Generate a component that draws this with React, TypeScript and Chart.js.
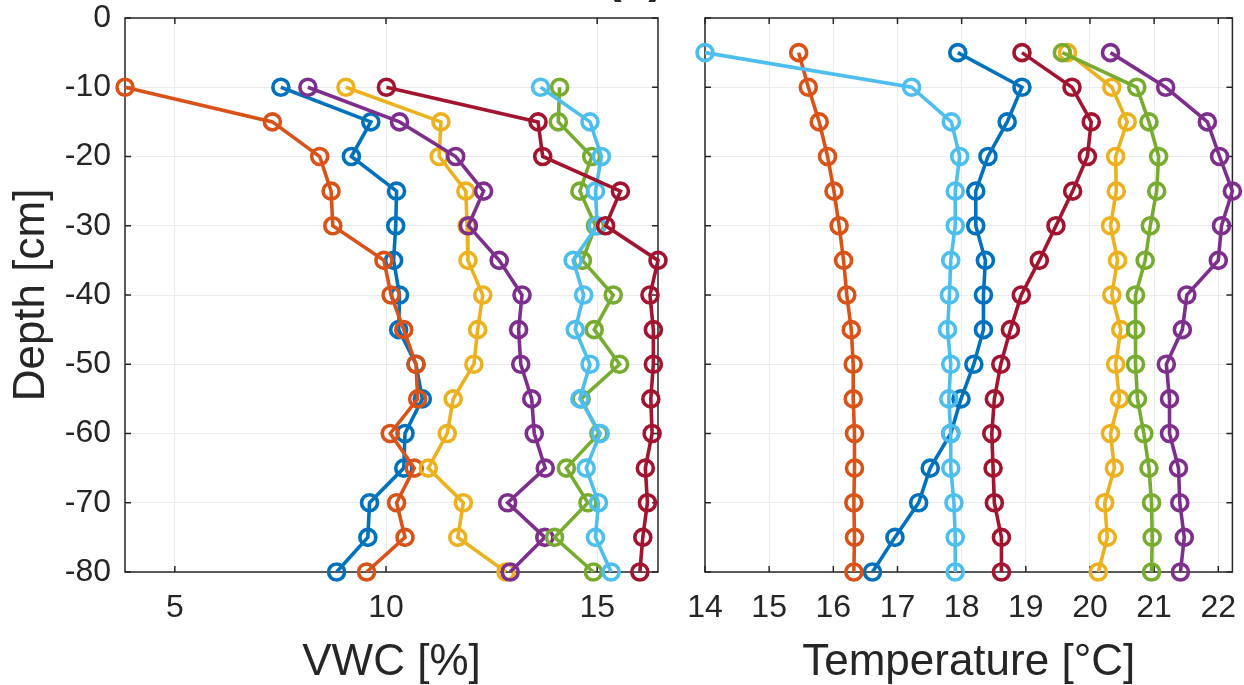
import React, { useEffect, useRef } from "react";
import { Chart, registerables } from "chart.js";

Chart.register(...registerables);

// ---------- Data ----------
const DEPTH_VWC = [-10, -15, -20, -25, -30, -35, -40, -45, -50, -55, -60, -65, -70, -75, -80];
const DEPTH_TEMP = [-5, -10, -15, -20, -25, -30, -35, -40, -45, -50, -55, -60, -65, -70, -75, -80];
const DEPTH_TICKS = [0, -10, -20, -30, -40, -50, -60, -70, -80];
const VWC_TICKS = [5, 10, 15];
const TEMP_TICKS = [14, 15, 16, 17, 18, 19, 20, 21, 22];

const COLORS = ["#0072BD", "#D95319", "#EDB120", "#7E2F8E", "#77AC30", "#4DBEEE", "#A2142F"];

const VWC_BLUE = [7.51, 9.64, 9.18, 10.25, 10.23, 10.18, 10.32, 10.3, 10.71, 10.86, 10.45, 10.42, 9.61, 9.57, 8.83];
const VWC_ORANGE = [3.82, 7.31, 8.43, 8.7, 8.74, 9.95, 10.12, 10.42, 10.71, 10.75, 10.1, 10.67, 10.25, 10.45, 9.54];
const VWC_YELLOW = [9.05, 11.3, 11.26, 11.89, 11.92, 11.94, 12.29, 12.17, 12.08, 11.59, 11.45, 11.0, 11.83, 11.7, 12.84];
const VWC_PURPLE = [8.15, 10.32, 11.65, 12.31, 11.95, 12.68, 13.22, 13.14, 13.19, 13.45, 13.51, 13.77, 12.88, 13.76, 12.94];
const VWC_GREEN = [14.11, 14.08, 14.87, 14.59, 14.96, 14.65, 15.38, 14.93, 15.53, 14.62, 15.04, 14.27, 14.78, 13.99, 14.91];
const VWC_LIGHTBLUE = [13.66, 14.83, 15.1, 14.96, 15.0, 14.43, 14.68, 14.48, 14.83, 14.59, 15.07, 14.74, 15.03, 14.96, 15.33];
const VWC_RED = [10.01, 13.6, 13.71, 15.55, 15.2, 16.44, 16.25, 16.33, 16.33, 16.27, 16.3, 16.14, 16.19, 16.08, 16.01];

const TEMP_BLUE = [17.94, 18.94, 18.71, 18.41, 18.22, 18.22, 18.37, 18.34, 18.34, 18.19, 17.99, 17.83, 17.51, 17.33, 16.96, 16.61];
const TEMP_ORANGE = [15.46, 15.61, 15.78, 15.91, 16.01, 16.09, 16.16, 16.21, 16.28, 16.31, 16.31, 16.33, 16.33, 16.32, 16.33, 16.32];
const TEMP_YELLOW = [19.65, 20.34, 20.58, 20.4, 20.41, 20.32, 20.43, 20.34, 20.48, 20.4, 20.46, 20.32, 20.38, 20.23, 20.27, 20.13];
const TEMP_PURPLE = [20.32, 21.18, 21.83, 22.02, 22.22, 22.05, 22.0, 21.51, 21.44, 21.19, 21.24, 21.24, 21.38, 21.4, 21.47, 21.41];
const TEMP_GREEN = [19.57, 20.73, 20.92, 21.07, 21.04, 20.94, 20.86, 20.71, 20.71, 20.71, 20.74, 20.84, 20.92, 20.96, 20.97, 20.96];
const TEMP_LIGHTBLUE = [14.0, 17.22, 17.84, 17.97, 17.9, 17.9, 17.83, 17.81, 17.78, 17.83, 17.8, 17.83, 17.83, 17.88, 17.9, 17.9];
const TEMP_RED = [18.94, 19.72, 20.02, 19.96, 19.73, 19.47, 19.21, 18.93, 18.76, 18.61, 18.51, 18.47, 18.49, 18.51, 18.62, 18.62];

const VWC_SERIES = [VWC_BLUE, VWC_ORANGE, VWC_YELLOW, VWC_PURPLE, VWC_GREEN, VWC_LIGHTBLUE, VWC_RED];
const TEMP_SERIES = [TEMP_BLUE, TEMP_ORANGE, TEMP_YELLOW, TEMP_PURPLE, TEMP_GREEN, TEMP_LIGHTBLUE, TEMP_RED];

// ---------- Styles ----------
const TICK_FONT = "'Liberation Sans', Arial, Helvetica, sans-serif";
const TITLE_FONT = "'Liberation Sans', Arial, Helvetica, sans-serif";
const AXIS_COLOR = "#262626";
const GRID_COLOR = "#ebebeb";

function buildDatasets(series: number[][], depths: number[]) {
  return series.map((vals, i) => ({
    data: vals.map((v, j) => ({ x: v, y: depths[j] })),
    borderColor: COLORS[i],
    backgroundColor: "rgba(0,0,0,0)",
    pointBackgroundColor: "rgba(0,0,0,0)",
    pointBorderColor: COLORS[i],
    pointRadius: 8,
    pointHoverRadius: 8,
    pointBorderWidth: 3.6,
    borderWidth: 3.6,
    showLine: true,
    clip: false as any,
    order: series.length - i,
  }));
}

const boxPlugin = {
  id: "matlabBox",
  beforeDatasetsDraw(chart: any) {
    const { ctx, chartArea, scales } = chart;
    const { left, right, top, bottom } = chartArea;
    const L = 6;
    ctx.save();
    ctx.strokeStyle = AXIS_COLOR;
    ctx.lineWidth = 1.5;
    ctx.beginPath();
    scales.x.ticks.forEach((t: any) => {
      const p = scales.x.getPixelForValue(t.value);
      ctx.moveTo(p, bottom);
      ctx.lineTo(p, bottom - L);
      ctx.moveTo(p, top);
      ctx.lineTo(p, top + L);
    });
    scales.y.ticks.forEach((t: any) => {
      const p = scales.y.getPixelForValue(t.value);
      ctx.moveTo(left, p);
      ctx.lineTo(left + L, p);
      ctx.moveTo(right, p);
      ctx.lineTo(right - L, p);
    });
    ctx.stroke();
    ctx.strokeRect(left, top, right - left, bottom - top);
    ctx.restore();
  },
};

function zeroPadding(s: any) {
  s.paddingTop = 0;
  s.paddingBottom = 0;
  s.paddingLeft = 0;
  s.paddingRight = 0;
}

function makeConfig(opts: {
  series: number[][];
  depths: number[];
  xTicks: number[];
  xTitle: string;
  showY: boolean;
  yWidth: number;
  padRight: number;
}): any {
  const all = opts.series.flat();
  const xMin = Math.min(...all);
  const xMax = Math.max(...all);
  return {
    type: "scatter",
    data: { datasets: buildDatasets(opts.series, opts.depths) },
    plugins: [boxPlugin],
    options: {
      responsive: false,
      animation: false,
      events: [],
      layout: { padding: { top: 18, right: opts.padRight, left: 0, bottom: 0 } },
      plugins: { legend: { display: false }, tooltip: { enabled: false }, title: { display: false } },
      scales: {
        x: {
          type: "linear",
          min: xMin,
          max: xMax,
          afterBuildTicks: (s: any) => {
            s.ticks = opts.xTicks.map((v) => ({ value: v }));
          },
          afterFit: (s: any) => {
            s.height = 113;
            zeroPadding(s);
          },
          grid: { color: GRID_COLOR, lineWidth: 1, drawTicks: false },
          border: { display: false },
          ticks: {
            font: { family: TICK_FONT, size: 32 },
            color: AXIS_COLOR,
            padding: 17,
            maxRotation: 0,
            autoSkip: false,
          },
          title: {
            display: true,
            text: opts.xTitle,
            color: AXIS_COLOR,
            font: { family: TITLE_FONT, size: 44, lineHeight: 1.0 },
            padding: 0,
          },
        },
        y: {
          type: "linear",
          min: -80,
          max: 0,
          afterBuildTicks: (s: any) => {
            s.ticks = DEPTH_TICKS.map((v) => ({ value: v }));
          },
          afterFit: (s: any) => {
            s.width = opts.yWidth;
            zeroPadding(s);
          },
          grid: { color: GRID_COLOR, lineWidth: 1, drawTicks: false },
          border: { display: false },
          ticks: {
            display: opts.showY,
            font: { family: TICK_FONT, size: 32 },
            color: AXIS_COLOR,
            padding: 14,
            autoSkip: false,
          },
          title: {
            display: opts.showY,
            text: "Depth [cm]",
            color: AXIS_COLOR,
            font: { family: TITLE_FONT, size: 44, lineHeight: 1.0 },
            padding: { top: 10, bottom: 0 },
          },
        },
      },
    },
  };
}

function Panel(props: { config: any; left: number; width: number }) {
  const ref = useRef<HTMLCanvasElement | null>(null);
  useEffect(() => {
    if (!ref.current) return;
    const chart = new Chart(ref.current, props.config);
    return () => chart.destroy();
  }, []);
  return (
    <canvas
      ref={ref}
      width={props.width}
      height={685}
      style={{ position: "absolute", left: props.left, top: 0, width: props.width, height: 685 }}
    />
  );
}

export default function App() {
  const vwcConfig = makeConfig({
    series: VWC_SERIES,
    depths: DEPTH_VWC,
    xTicks: VWC_TICKS,
    xTitle: "VWC [%]",
    showY: true,
    yWidth: 125,
    padRight: 22,
  });
  const tempConfig = makeConfig({
    series: TEMP_SERIES,
    depths: DEPTH_TEMP,
    xTicks: TEMP_TICKS,
    xTitle: "Temperature [°C]",
    showY: false,
    yWidth: 25,
    padRight: 7,
  });
  return (
    <div style={{ position: "absolute", left: 0, top: 0, width: 1244, height: 685, overflow: "hidden", background: "#fff" }}>
      <Panel config={vwcConfig} left={0} width={680} />
      <Panel config={tempConfig} left={680} width={564} />
      <div
        style={{
          position: "absolute",
          left: 585,
          top: -48,
          width: 100,
          textAlign: "center",
          font: "bold 48px 'Liberation Sans', Arial, sans-serif",
          lineHeight: "48px",
          color: AXIS_COLOR,
        }}
      >
        (a)
      </div>
    </div>
  );
}
